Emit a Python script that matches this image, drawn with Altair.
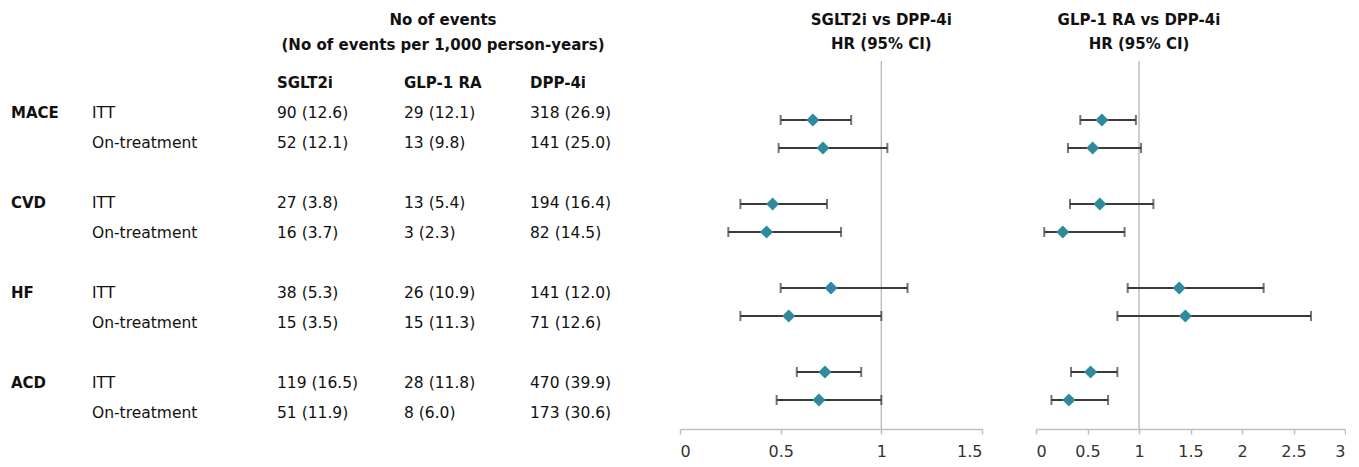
import altair as alt
import pandas as pd

# ---------------- data ----------------
outcomes = ["MACE", "CVD", "HF", "ACD"]
analyses = ["ITT", "On-treatment"]
drugs = ["SGLT2i", "GLP-1 RA", "DPP-4i"]

sglt2_events = [90, 52, 27, 16, 38, 15, 119, 51]
sglt2_rate = [12.6, 12.1, 3.8, 3.7, 5.3, 3.5, 16.5, 11.9]
glp1_events = [29, 13, 13, 3, 26, 15, 28, 8]
glp1_rate = [12.1, 9.8, 5.4, 2.3, 10.9, 11.3, 11.8, 6.0]
dpp4_events = [318, 141, 194, 82, 141, 71, 470, 173]
dpp4_rate = [26.9, 25.0, 16.4, 14.5, 12.0, 12.6, 39.9, 30.6]

sglt2_hr = [0.66, 0.71, 0.46, 0.43, 0.75, 0.54, 0.72, 0.69]
sglt2_lo = [0.50, 0.49, 0.30, 0.24, 0.50, 0.30, 0.58, 0.48]
sglt2_hi = [0.85, 1.03, 0.73, 0.80, 1.13, 1.00, 0.90, 1.00]

glp1_hr = [0.64, 0.55, 0.62, 0.26, 1.39, 1.45, 0.53, 0.32]
glp1_lo = [0.43, 0.31, 0.33, 0.08, 0.89, 0.79, 0.34, 0.15]
glp1_hi = [0.97, 1.02, 1.14, 0.86, 2.21, 2.67, 0.79, 0.70]

# ---------------- table ----------------
rows = []
k = 0
for i, o in enumerate(outcomes):
    for j, a in enumerate(analyses):
        rows.append({
            "outcome": o if j == 0 else "",
            "analysis": a,
            "row": i * 3 + j,
            "c1": f"{sglt2_events[k]} ({sglt2_rate[k]:.1f})",
            "c2": f"{glp1_events[k]} ({glp1_rate[k]:.1f})",
            "c3": f"{dpp4_events[k]} ({dpp4_rate[k]:.1f})",
            "s_hr": sglt2_hr[k], "s_lo": sglt2_lo[k], "s_hi": sglt2_hi[k],
            "g_hr": glp1_hr[k], "g_lo": glp1_lo[k], "g_hi": glp1_hi[k],
        })
        k += 1
df = pd.DataFrame(rows)

FONT = "DejaVu Sans"
H = 421
TXT = "#111111"

tab_y = alt.Y("row:Q", scale=alt.Scale(domain=[-3.5, 10.533], reverse=True), axis=None)
base_t = alt.Chart(df)

def txt(**kw):
    d = dict(align="left", baseline="middle", font=FONT, fontSize=15.5, color=TXT)
    d.update(kw)
    return d

table_layers = [
    base_t.mark_text(**txt(fontWeight="bold", fontSize=15)).encode(x=alt.value(3), y=tab_y, text="outcome:N"),
    base_t.mark_text(**txt()).encode(x=alt.value(84), y=tab_y, text="analysis:N"),
    base_t.mark_text(**txt()).encode(x=alt.value(269), y=tab_y, text="c1:N"),
    base_t.mark_text(**txt()).encode(x=alt.value(396), y=tab_y, text="c2:N"),
    base_t.mark_text(**txt()).encode(x=alt.value(522), y=tab_y, text="c3:N"),
]
hdr_df = pd.DataFrame({"drug": drugs, "xpos": [269, 396, 522]})
table_layers.append(
    alt.Chart(hdr_df).mark_text(**txt(fontWeight="bold", fontSize=15)).encode(
        x=alt.X("xpos:Q", scale=None), y=alt.value(75), text="drug:N")
)
title_df = pd.DataFrame({"t": ["No of events", "(No of events per 1,000 person-years)"], "yy": [12, 37]})
table_layers.append(
    alt.Chart(title_df).mark_text(**txt(align="center", fontWeight="bold", fontSize=15)).encode(
        x=alt.value(435), y=alt.Y("yy:Q", scale=None), text="t:N")
)
table = alt.layer(*table_layers).properties(width=618, height=H)

# ---------------- forest panels ----------------
for_y = alt.Y("row:Q", scale=alt.Scale(domain=[-4, 11.036], reverse=True), axis=None)

def forest(hr, lo, hi, dmax, ticks, width, title):
    xs = alt.Scale(domain=[0, dmax], nice=False, zero=True)
    xaxis = alt.Axis(values=ticks, format="~g", grid=False, title=None,
                     domainColor="#BFBFBF", tickColor="#BFBFBF", tickSize=5,
                     labelFont=FONT, labelFontSize=16, labelColor="#333333",
                     labelPadding=9, domainWidth=1.5, tickWidth=1.5)
    b = alt.Chart(df)
    ref = alt.Chart(pd.DataFrame({"ref": [1.0]})).mark_rule(color="#BFBFBF", strokeWidth=1.5).encode(
        x=alt.X("ref:Q", scale=xs, axis=xaxis), y=alt.value(53), y2=alt.value(H))
    whisk = b.mark_rule(color="#3A3A3A", strokeWidth=2).encode(
        x=alt.X(f"{lo}:Q", scale=xs), x2=f"{hi}:Q", y=for_y)
    cap1 = b.mark_tick(orient="vertical", color="#3A3A3A", size=10, thickness=2).encode(
        x=alt.X(f"{lo}:Q", scale=xs), y=for_y)
    cap2 = b.mark_tick(orient="vertical", color="#3A3A3A", size=10, thickness=2).encode(
        x=alt.X(f"{hi}:Q", scale=xs), y=for_y)
    dia = b.mark_point(shape="diamond", filled=True, size=170, color="#2F8A9E", opacity=1).encode(
        x=alt.X(f"{hr}:Q", scale=xs), y=for_y)
    tdf = pd.DataFrame({"t": title, "ref": [1.0, 1.0], "yy": [12, 36]})
    ttl = alt.Chart(tdf).mark_text(align="center", baseline="middle", font=FONT, fontSize=15,
                                   fontWeight="bold", color=TXT).encode(
        x=alt.X("ref:Q", scale=xs), y=alt.Y("yy:Q", scale=None), text="t:N")
    return alt.layer(ref, whisk, cap1, cap2, dia, ttl).properties(width=width, height=H)

f1 = forest("s_hr", "s_lo", "s_hi", 1.5, [0, 0.5, 1, 1.5], 302, ["SGLT2i vs DPP-4i", "HR (95% CI)"])
f2 = forest("g_hr", "g_lo", "g_hi", 3, [0, 0.5, 1, 1.5, 2, 2.5, 3], 309, ["GLP-1 RA vs DPP-4i", "HR (95% CI)"])

chart = alt.hconcat(table, f1, f2, spacing=54, bounds="flush").properties(
    padding=0, background="white"
).configure_view(stroke=None)

chart.save("out.html", embed_options={"renderer": "svg", "actions": False})
